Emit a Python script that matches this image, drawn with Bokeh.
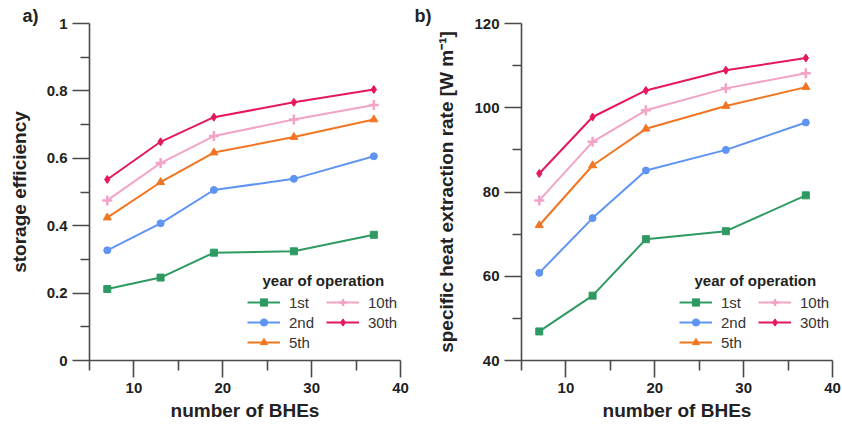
from bokeh.plotting import figure
from bokeh.models import (Range1d, FixedTicker, CustomJSTickFormatter, Legend,
                          LegendItem, Label, Title)
from bokeh.layouts import row
from bokeh.embed import file_html
from bokeh.resources import INLINE

# ---- data ----
n_bhe = [7, 13, 19, 28, 37]
series_labels = ["1st", "2nd", "5th", "10th", "30th"]

eff_1st = [0.212, 0.246, 0.320, 0.324, 0.373]
eff_2nd = [0.327, 0.407, 0.506, 0.539, 0.606]
eff_5th = [0.424, 0.529, 0.617, 0.663, 0.715]
eff_10th = [0.475, 0.586, 0.666, 0.715, 0.758]
eff_30th = [0.537, 0.649, 0.722, 0.766, 0.804]

rate_1st = [46.9, 55.4, 68.8, 70.7, 79.2]
rate_2nd = [60.8, 73.8, 85.1, 90.0, 96.5]
rate_5th = [72.1, 86.3, 95.0, 100.4, 104.9]
rate_10th = [78.0, 91.9, 99.4, 104.6, 108.2]
rate_30th = [84.4, 97.8, 104.1, 108.9, 111.8]

x_ticks = [10, 20, 30, 40]
x_minor = [5, 15, 25, 35]
eff_ticks = [0, 0.2, 0.4, 0.6, 0.8, 1.0]
eff_minor = [0.1, 0.3, 0.5, 0.7, 0.9]
rate_ticks = [40, 60, 80, 100, 120]
rate_minor = [50, 70, 90, 110]

colors = ["#2e9a62", "#5f94f2", "#f27521", "#f2a3c7", "#e6175c"]
markers = ["square", "circle", "triangle", "cross", "diamond"]
msizes = [7, 7, 8, 10, 8]

FONT = "Liberation Sans"
AXC = "#4a4a4a"


def make_panel(width, border_left, border_right, yr, yticks, yminor, ylabel,
               series, panel_tag, tag_offset):
    p = figure(width=width, height=426, output_backend="svg",
               toolbar_location=None, x_range=Range1d(5, 40),
               y_range=Range1d(*yr), min_border_left=border_left,
               min_border_right=border_right, min_border_top=23,
               min_border_bottom=66)
    p.title = Title(text=panel_tag, align="left", offset=tag_offset,
                    standoff=-5, text_font=FONT, text_font_style="bold",
                    text_font_size="18px", text_color="#222222")
    p.outline_line_color = None
    p.grid.visible = False
    p.background_fill_color = "white"
    p.border_fill_color = "white"

    for ax in (p.xaxis[0], p.yaxis[0]):
        ax.axis_line_color = AXC
        ax.axis_line_width = 1.6
        ax.major_tick_line_color = AXC
        ax.minor_tick_line_color = AXC
        ax.major_tick_line_width = 1.6
        ax.minor_tick_line_width = 1.6
        ax.major_tick_in = 0
        ax.minor_tick_in = 0
        ax.major_tick_out = 17
        ax.minor_tick_out = 9
        ax.major_label_text_font = FONT
        ax.major_label_text_font_style = "bold"
        ax.major_label_text_font_size = "15px"
        ax.major_label_text_color = "#222222"
        ax.major_label_standoff = 5
        ax.axis_label_text_font = FONT
        ax.axis_label_text_font_style = "bold"
        ax.axis_label_text_font_size = "19px"
        ax.axis_label_text_color = "#222222"

    p.xaxis[0].ticker = FixedTicker(ticks=x_ticks, minor_ticks=x_minor)
    p.xaxis[0].minor_tick_out = 10
    p.xaxis[0].axis_label = "number of BHEs"
    p.xaxis[0].axis_label_standoff = 4
    p.yaxis[0].ticker = FixedTicker(ticks=yticks, minor_ticks=yminor)
    p.yaxis[0].formatter = CustomJSTickFormatter(
        code="return String(Math.round(tick * 10) / 10);")
    p.yaxis[0].axis_label = ylabel
    p.yaxis[0].axis_label_standoff = 14

    items = []
    for lab, ys, c, m, s in zip(series_labels, series, colors, markers, msizes):
        lr = p.line(n_bhe, ys, line_color=c, line_width=2)
        if m == "cross":
            sr = p.scatter(n_bhe, ys, marker=m, size=s, line_color=c,
                           line_width=2.5)
        else:
            sr = p.scatter(n_bhe, ys, marker=m, size=s, fill_color=c,
                           line_color=c)
        items.append(LegendItem(label=lab, renderers=[lr, sr]))

    leg = Legend(items=items, location=(158, 9), ncols=2,
                 orientation="vertical", padding=0, margin=0,
                 border_line_color=None, background_fill_alpha=0,
                 glyph_width=33, glyph_height=18, label_height=18,
                 label_width=35, label_standoff=9, spacing=2,
                 label_text_font=FONT, label_text_font_size="15px",
                 label_text_color="#333333")
    p.add_layout(leg)

    p.add_layout(Label(x=173, y=80, x_units="screen", y_units="screen",
                       text="year of operation", text_font=FONT,
                       text_font_style="bold", text_font_size="15px",
                       text_baseline="middle", text_color="#222222"))
    return p


p1 = make_panel(413, 89, 13, (0, 1), eff_ticks, eff_minor, "storage efficiency",
                [eff_1st, eff_2nd, eff_5th, eff_10th, eff_30th], "a)", -67)
p2 = make_panel(429, 108, 10, (40, 120), rate_ticks, rate_minor,
                "specific heat extraction rate [W m⁻¹]",
                [rate_1st, rate_2nd, rate_5th, rate_10th, rate_30th], "b)", -107)

layout = row(p1, p2, spacing=0)
open("out.html", "w").write(file_html(layout, INLINE))
